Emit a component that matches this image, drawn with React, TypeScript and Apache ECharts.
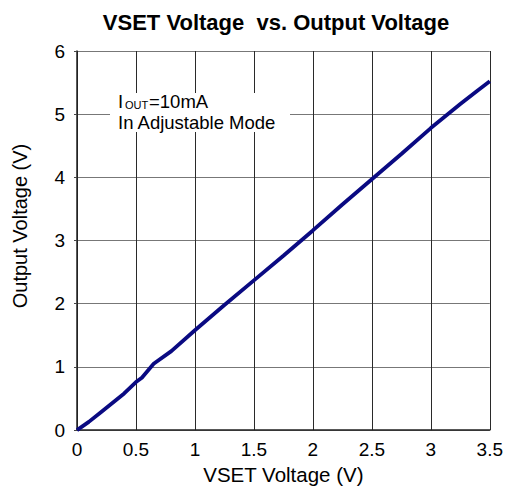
import React, { useEffect, useRef } from "react";
import * as echarts from "echarts";

const vset: number[] = [0, 0.1, 0.2, 0.3, 0.4, 0.5, 0.55, 0.65, 0.8, 1.0, 1.25, 1.5, 1.75, 2.0, 2.25, 2.5, 2.75, 3.0, 3.25, 3.4, 3.5];
const vout: number[] = [0, 0.13, 0.28, 0.43, 0.58, 0.76, 0.83, 1.05, 1.25, 1.58, 1.98, 2.37, 2.76, 3.16, 3.57, 3.97, 4.37, 4.78, 5.16, 5.38, 5.52];

const titleText = "VSET Voltage  vs. Output Voltage";
const xName = "VSET Voltage (V)";
const yName = "Output Voltage (V)";

export default function App() {
  const ref = useRef<HTMLDivElement>(null);
  useEffect(() => {
    if (!ref.current) return;
    const chart = echarts.init(ref.current, undefined, { renderer: "svg" });
    const font = "Liberation Sans, Arial, sans-serif";
    chart.setOption({
      animation: false,
      backgroundColor: "#fff",
      title: {
        text: titleText,
        left: 271,
        textAlign: "center",
        top: 6,
        textStyle: { fontFamily: font, fontSize: 22, fontWeight: "bold", color: "#000" },
      },
      grid: { left: 77, right: 15, top: 51, bottom: 59, show: false },
      xAxis: {
        type: "value",
        min: 0,
        max: 3.5,
        interval: 0.5,
        name: xName,
        nameLocation: "middle",
        nameGap: 33,
        nameTextStyle: { fontFamily: font, fontSize: 20.5, color: "#000" },
        axisLine: { show: true, lineStyle: { color: "#222", width: 1.5 } },
        axisTick: { show: false },
        axisLabel: { fontFamily: font, fontSize: 19, color: "#000", margin: 10 },
        splitLine: { show: true, lineStyle: { color: "#2a2a2a", width: 1 } },
      },
      yAxis: {
        type: "value",
        min: 0,
        max: 6,
        interval: 1,
        axisLine: { show: true, lineStyle: { color: "#222", width: 1.5 } },
        axisTick: { show: true, length: 3, lineStyle: { color: "#444" } },
        axisLabel: { fontFamily: font, fontSize: 19, color: "#000", margin: 12 },
        splitLine: { show: true, lineStyle: { color: "#777", width: 1.2 } },
      },
      series: [
        {
          type: "line",
          data: vset.map((x, i) => [x, vout[i]]),
          showSymbol: false,
          smooth: false,
          lineStyle: { color: "#0a0a82", width: 3.8 },
          z: 5,
        },
      ],
      graphic: [
        {
          type: "text",
          x: 20,
          y: 226,
          rotation: Math.PI / 2,
          style: {
            text: yName,
            fill: "#000",
            font: "20px Liberation Sans, Arial, sans-serif",
            align: "center",
            verticalAlign: "middle",
          },
        },
        {
          type: "rect",
          z: 100,
          shape: { x: 110, y: 93, width: 180, height: 39 },
          style: { fill: "#fff" },
        },
        {
          type: "text",
          z: 101,
          x: 118,
          y: 92,
          style: { text: "I", fill: "#000", font: "18.5px Liberation Sans, Arial, sans-serif", verticalAlign: "top" },
        },
        {
          type: "text",
          z: 101,
          x: 125,
          y: 99.5,
          style: { text: "OUT", fill: "#000", font: "11px Liberation Sans, Arial, sans-serif", verticalAlign: "top" },
        },
        {
          type: "text",
          z: 101,
          x: 149,
          y: 92,
          style: { text: "=10mA", fill: "#000", font: "18.5px Liberation Sans, Arial, sans-serif", verticalAlign: "top" },
        },
        {
          type: "text",
          z: 101,
          x: 118,
          y: 112.5,
          style: { text: "In Adjustable Mode", fill: "#000", font: "18.5px Liberation Sans, Arial, sans-serif", verticalAlign: "top" },
        },
      ],
    });
    return () => chart.dispose();
  }, []);
  return <div ref={ref} style={{ position: "fixed", left: 0, top: 0, width: 506, height: 490 }} />;
}
